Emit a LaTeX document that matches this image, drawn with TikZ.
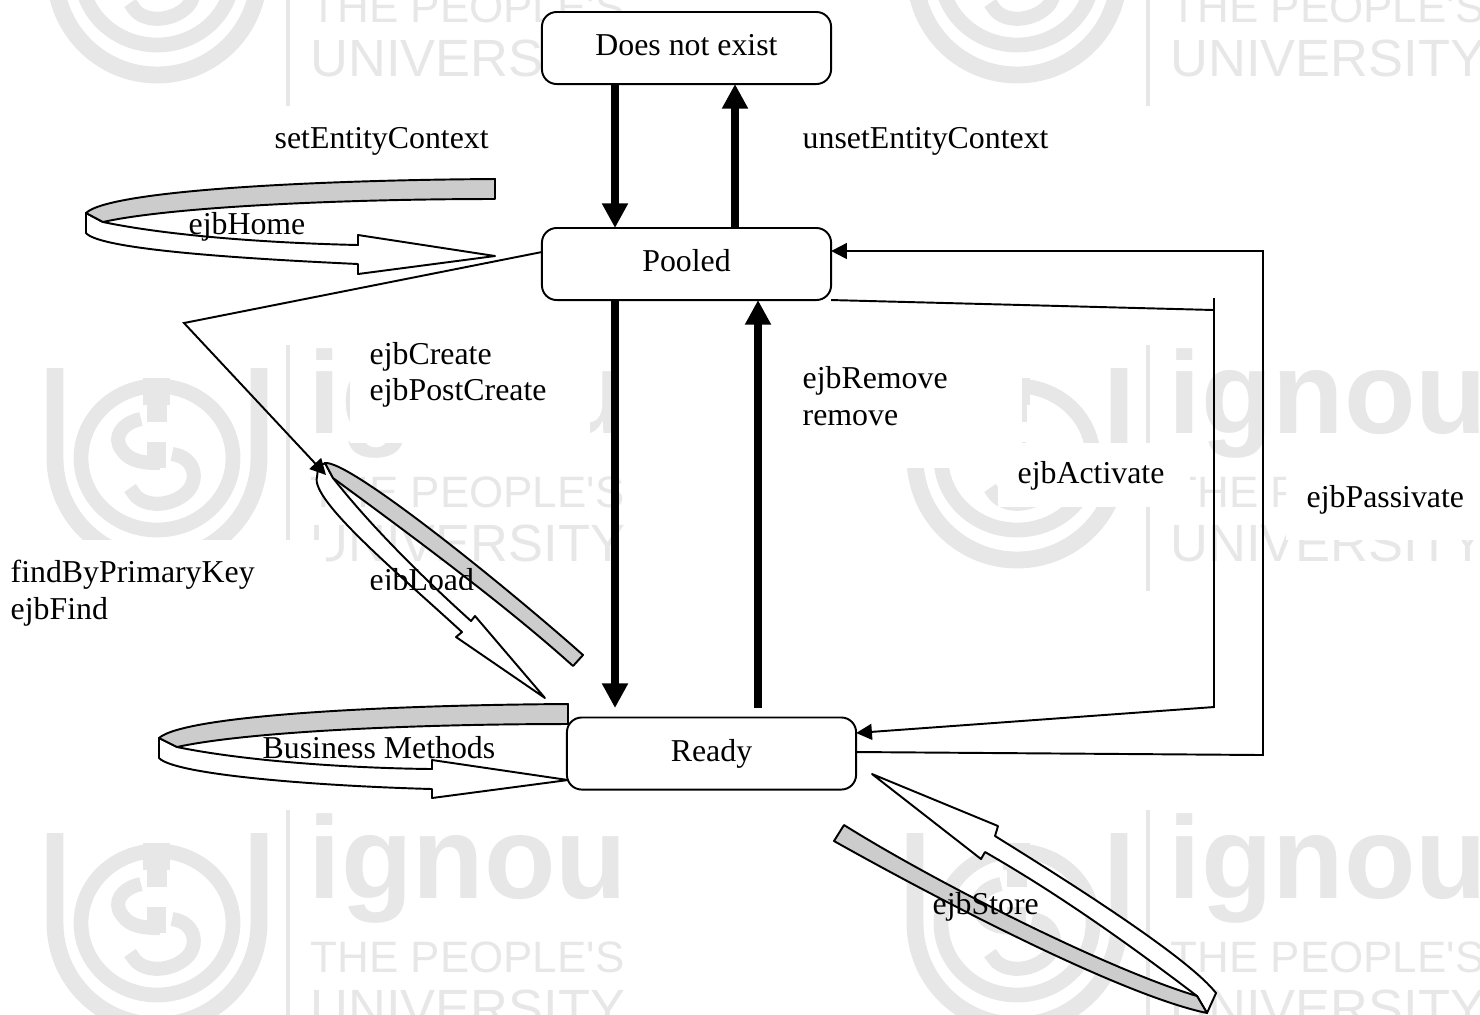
\documentclass[tikz,border=0pt]{standalone}
\usepackage{fontspec}
\setmainfont{Liberation Serif}
\newfontfamily\markfont{Liberation Sans}
\usetikzlibrary{arrows.meta}
\definecolor{markgray}{gray}{0.905}
\definecolor{bandgray}{gray}{0.8}
\tikzset{
  statebox/.style={draw, fill=white, rounded corners=4.2pt, line width=0.55pt, outer sep=0pt, minimum width=2.89cm, minimum height=0.72cm, inner sep=0pt, text height=0.25cm, text depth=0.10cm},
  heavyline/.style={line width=2.4pt, -{Triangle[length=7pt,width=7pt]}},
  thinline/.style={line width=0.55pt},
  thinarrow/.style={line width=0.55pt, -{Triangle[length=4.5pt,width=4.5pt]}},
  bandtop/.style={draw, fill=bandgray, line width=0.55pt, line join=round},
  bandlow/.style={draw, fill=white, line width=0.55pt, line join=round},
  lbl/.style={anchor=west, inner sep=0pt, align=left},
  patch/.style={fill=white, draw=none}
}
\begin{document}
\begin{tikzpicture}[x=0.01cm, y=-0.01cm, every node/.append style={font=\fontsize{9.05}{10.4}\selectfont}]
    \useasboundingbox (0,0) rectangle (1480,1014);
    \clip (0,0) rectangle (1480,1014);

    % Watermark
    \foreach \wn/\wx/\wy in {a/0/-140, b/860/-140, c/0/345, d/860/345, e/0/810, f/860/810} {
      \begin{scope}[shift={(\wx,\wy)}]
        \draw[markgray, line width=4.8pt] (55,23) -- (55,113) arc[start angle=180, end angle=0, x radius=102, y radius=102] -- (259,23);
        \draw[markgray, line width=4.2pt] (157,113) ellipse[x radius=76, y radius=72];
        \fill[markgray] (143,33) rectangle (170,60);
        \fill[markgray] (147,55) rectangle (167,77);
        \fill[markgray] (147,97) rectangle (166,123);
        \draw[markgray, line width=4pt] (141,74) .. controls (122,78) and (112,92) .. (122,105) .. controls (130,117) and (145,118) .. (160,118);
        \draw[markgray, line width=4pt] (172,109) .. controls (195,112) and (200,135) .. (186,148) .. controls (170,162) and (145,162) .. (135,150) -- (130,143);
        \draw[markgray, line width=1.1pt] (288,0) -- (288,246);
        \node[markgray, anchor=base west, inner sep=0pt, font=\markfont\bfseries\fontsize{33.3}{35}\selectfont] (ignou-\wn) at (308,88) {ignou};
        \node[markgray, anchor=base west, inner sep=0pt, font=\markfont\fontsize{12.5}{14}\selectfont] (people-\wn) at (310,162) {THE PEOPLE'S};
        \node[markgray, anchor=base west, inner sep=0pt, font=\markfont\fontsize{14.9}{17}\selectfont] (univ-\wn) at (310,216) {UNIVERSITY};
      \end{scope}
    }

    % White text boxes over the watermark
    \fill[patch] (350,335) rectangle (590,443);
    \fill[patch] (0,540) rectangle (326,640);
    \fill[patch] (790,340) rectangle (998,468);
    \fill[patch] (998,340) rectangle (1022,443);
    \fill[patch] (998,443) rectangle (1190,507);
    \fill[patch] (1286,465) rectangle (1480,540);

    % States
    \node[statebox] (dne) at (686.5,48) {Does not exist};
    \node[statebox] (pooled) at (686.5,264) {Pooled};
    \node[statebox] (ready) at (711.5,753.5) {Ready};

    % Heavy arrows
    \coordinate (downa) at (615,0);
    \coordinate (upa) at (735,0);
    \coordinate (downb) at (615,0);
    \coordinate (upb) at (758,0);
    \draw[heavyline] (dne.south -| downa) -- (pooled.north -| downa);
    \draw[heavyline] (pooled.north -| upa) -- (dne.south -| upa);
    \draw[heavyline] (pooled.south -| downb) -- (615,708);
    \draw[heavyline] (758,708) -- (pooled.south -| upb);

    % Thin connectors
    \coordinate (endact) at (1214,310);
    \coordinate (topact) at (1214,298);
    \coordinate (lowact) at (1214,707);
    \coordinate (lowpas) at (1263,755);
    \coordinate (toppas) at (1263,251);
    \draw[thinline] (pooled.south east) -- (endact);
    \draw[thinarrow] (topact) -- (lowact) -- (ready.east |- 0,733);
    \draw[thinarrow] (ready.east |- 0,752) -- (lowpas) -- (toppas) -- (pooled.east |- toppas);

    % ejbHome loop
    \draw[bandlow] (86,213) -- (103,222) .. controls (170,236) and (270,243) .. (358,245) -- (358,235) -- (495,256) -- (358,274) -- (358,264) .. controls (250,259) and (100,250) .. (86,233) -- cycle;
    \draw[bandtop] (495,179) .. controls (320,180) and (110,190) .. (86,213) -- (103,222) .. controls (170,207) and (340,199) .. (495,199) -- cycle;

    % Business Methods loop
    \draw[bandlow] (159,738) -- (177,747) .. controls (240,760) and (340,768) .. (432,769) -- (432,760) -- (568,780) -- (432,798) -- (432,789) .. controls (320,786) and (175,775) .. (159,758) -- cycle;
    \draw[bandtop] (568,704) .. controls (390,705) and (185,715) .. (159,738) -- (177,747) .. controls (245,732) and (410,724) .. (568,724) -- cycle;

    % ejbLoad loop
    \draw[bandlow] (325,463) -- (333,478) .. controls (370,525) and (420,575) .. (471,621) -- (475,616) -- (545,698) -- (456,637) -- (462,632) .. controls (400,575) and (310,500) .. (317,477) .. controls (317,470) and (320,465) .. (325,463) -- cycle;
    \draw[bandtop] (583,655) .. controls (510,590) and (350,460) .. (325,463) -- (333,478) .. controls (390,520) and (500,600) .. (573,666) -- cycle;

    % ejbStore loop
    \draw[bandlow] (1197,996) .. controls (1130,945) and (1060,895) .. (985,852) -- (981,859) -- (872,774) -- (998,826) -- (995,836) .. controls (1090,895) and (1190,960) .. (1216,993) -- (1207,1013) -- cycle;
    \draw[bandtop] (844,825) .. controls (940,885) and (1110,970) .. (1197,996) -- (1207,1013) .. controls (1120,995) and (930,895) .. (834,841) -- cycle;

    % Find connector lies over the loop
    \coordinate (bendfind) at (184,323);
    \coordinate (endfind) at (326,475);
    \draw[thinarrow] (pooled.west |- 0,252) -- (bendfind) -- (endfind);

    % Labels
    \node[lbl] (setctx) at (274,141) {setEntityContext};
    \node[lbl] (unsetctx) at (802,141) {unsetEntityContext};
    \node[lbl] (home) at (188,227) {ejbHome};
    \node[lbl] (create) at (369,375) {ejbCreate\\ejbPostCreate};
    \node[lbl] (removes) at (802,396) {ejbRemove\\remove};
    \node[lbl] (activate) at (1017,476) {ejbActivate};
    \node[lbl] (passivate) at (1306,500) {ejbPassivate};
    \node[lbl] (find) at (10,593) {findByPrimaryKey\\ejbFind};
    \node[lbl] (business) at (262,748) {Business Methods};
    \node[lbl] (store) at (932,907) {ejbStore};
    \begin{scope}
      \clip (350,560) rectangle (500,589);
      \node[lbl] (load) at (369,583) {ejbLoad};
    \end{scope}
\end{tikzpicture}
\end{document}
